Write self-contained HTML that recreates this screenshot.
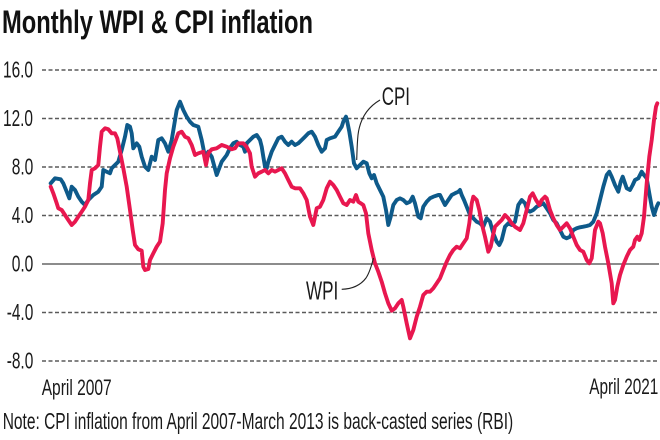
<!DOCTYPE html>
<html>
<head>
<meta charset="utf-8">
<style>
  html,body{margin:0;padding:0;background:#fff;}
  svg{display:block;}
  text{font-family:"Liberation Sans",sans-serif;fill:#1a1a1a;}
</style>
</head>
<body>
<svg width="660" height="440" viewBox="0 0 660 440" xmlns="http://www.w3.org/2000/svg">
  <rect width="660" height="440" fill="#fff"/>
  <!-- Title -->
  <text x="2" y="33" font-size="32" font-weight="bold" textLength="311" lengthAdjust="spacingAndGlyphs" style="fill:#111">Monthly WPI &amp; CPI inflation</text>

  <!-- Gridlines -->
  <g stroke="#5a5a5a" stroke-width="1.6" stroke-dasharray="4 2.5" fill="none">
    <line x1="42" y1="70" x2="659" y2="70"/>
    <line x1="42" y1="118.5" x2="659" y2="118.5"/>
    <line x1="42" y1="167" x2="659" y2="167"/>
    <line x1="42" y1="215.5" x2="659" y2="215.5"/>
    <line x1="42" y1="312.5" x2="659" y2="312.5"/>
    <line x1="42" y1="361" x2="659" y2="361"/>
  </g>
  <line x1="42" y1="264" x2="659" y2="264" stroke="#666" stroke-width="1.6"/>

  <!-- Y labels -->
  <g font-size="23" style="fill:#222">
    <text x="3" y="77.5" textLength="30" lengthAdjust="spacingAndGlyphs">16.0</text>
    <text x="3" y="126" textLength="30" lengthAdjust="spacingAndGlyphs">12.0</text>
    <text x="11.7" y="174.5" textLength="21.6" lengthAdjust="spacingAndGlyphs">8.0</text>
    <text x="11.7" y="223" textLength="21.6" lengthAdjust="spacingAndGlyphs">4.0</text>
    <text x="11.7" y="271.5" textLength="21.6" lengthAdjust="spacingAndGlyphs">0.0</text>
    <text x="6.7" y="320" textLength="26.6" lengthAdjust="spacingAndGlyphs">-4.0</text>
    <text x="6.7" y="368.5" textLength="26.6" lengthAdjust="spacingAndGlyphs">-8.0</text>
  </g>

  <!-- CPI series -->
  <polyline fill="none" stroke="#0e5a8a" stroke-width="3.9" stroke-linejoin="round" stroke-linecap="round" points="50.7,183.3 55,178.3 60.7,179.3 63.3,183.3 66.7,191.7 69.3,198.3 71.7,186.7 75,190 78.3,196.7 81.7,201.7 85,205 88.3,200 93.3,195 98.3,191.7 101.7,186.7 103.3,170 106.7,171.7 110,173.3 111.7,168.3 115,165 118.3,161.7 121.7,150 125,136.7 127.3,125 130,126.7 131.7,133.3 133.3,148.3 136.7,143.3 139.3,146.7 141.7,156.7 145,166.7 148.3,170 151.7,156.7 155,160 158.3,140 161.7,138.3 165,143.3 168.3,151.7 171.7,140 176.7,110 180,101.7 183.3,110 186.7,116.7 190,121.7 193.3,125 198.3,126.7 201.7,140 205,156.7 208.3,151.7 211.7,156.7 216.7,175 221.7,161.7 226.7,155 230,148 233.3,143.3 236.7,141.7 240,145 243.3,146.7 245,151.7 246.7,143.3 250,140 253.3,136.7 256.7,135 260,140 261.7,146.7 263.3,156.7 265,166.7 266.7,168.3 268.3,161.7 271.7,151.7 275,145 278.3,138.3 281.7,136.7 285,141.7 288.3,145 291.7,141.7 295,145 298.3,143.3 301.7,140 305,136.7 308.3,133.3 311.7,131.7 315,136.7 318.3,145 321.7,151.7 325,148.3 326.7,140 330,138.3 335,136.7 338.3,131.7 341.7,126.7 343.3,121.7 346,116.7 347.3,121.7 349.3,131.7 351.7,146.7 354,163.3 356.7,168.3 360,165 363.3,161.7 366.7,163.3 369.3,173.3 371.7,178.3 374,175 376.7,183.3 380,190 383.3,196.7 386,210 388.3,225 390.7,216.7 393.3,205 396.7,200 400,198.3 403.3,200 406.7,203.3 410,201.7 412.7,196.7 415,203.3 418.3,216.7 420.7,218.3 423.3,206.7 426.7,201.7 430,198.3 433.3,196.7 438.3,195 440,195 443.3,201.7 445,205 448.3,200 451.7,195 455,193.3 458.3,191.7 460,190 461.7,195 464,200 466.7,206.7 470,215 473.3,218.3 476.7,221.7 480,223.3 483.3,226.7 486.7,218.3 490,221.7 493.3,233.3 496.7,241.7 499.3,245 501.7,240 505,226.7 508.3,223.3 511.7,225 515,221.7 518.3,205 521.7,200 525,203.3 527.3,210 530,211.7 533.3,210 536.7,206.7 540,205 543.3,203.3 546.7,208.3 550,213.3 553.3,220 556.7,223.3 560,230 563.3,236.7 566.7,238.3 570,236.7 573.3,230 576.7,228.3 580,227.3 583.3,226.7 586.7,226 590,225 593.3,221.7 596.7,213.3 600,200 603.3,186.7 606.7,175 609.3,171.7 611.7,176.7 615,185 618.3,191.7 620.7,181.7 622.7,176.7 625,183.3 626.7,188.3 630,190 632.7,185 635,180 638.3,178.3 641.7,171.7 644,175 646.7,178.3 649.3,193.3 651.7,206.7 654,215 656.7,206.7 658.3,203.3"/>

  <!-- WPI series -->
  <polyline fill="none" stroke="#e8174f" stroke-width="3.9" stroke-linejoin="round" stroke-linecap="round" points="50.7,186.7 53.3,193.3 56.7,203.3 58.3,208.3 61.7,210 65,215 68.3,220 71.7,225 75,221.7 78.3,216.7 81.7,211.7 85,206.7 88.3,200 90,183.3 91.7,170 95,168.3 98.3,165 100,146.7 101.7,131.7 105,128.3 108.3,129.3 111.7,133.3 115,133.3 117.3,138.3 120,151.7 123.3,168.3 126.7,186.7 130,210 132.7,230 135,245 138.3,249.3 141.7,250.7 143.3,266.7 145,270 148.3,269 150,260 153.3,253.3 156.7,246.7 160,241.7 162.7,223.3 165,190 166.7,173.3 170,158.3 173.3,146.7 178.3,133.3 181.7,131.7 185,136.7 188.3,138.3 191.7,145 195,155 198.3,153.3 203.3,151.7 206,165 208.3,153.3 211.7,149.3 216.7,148.3 221.7,145 226.7,146.7 231.7,149.3 235,148.3 238.3,143.3 243.3,143.3 246.7,147 250,153.3 251.7,166.7 255,176.7 258.3,173.3 261.7,171.7 265,170 268.3,173.3 271.7,170 275,171.7 278.3,170 281.7,168.3 285,173.3 288.3,180 291.7,186.7 295,188.3 300,188.3 303.3,193.3 306.7,200 310,216.7 313.3,225 315,216.7 316.7,208.3 320,206.7 323.3,200 326.7,188.3 330,181.7 333.3,185 336.7,190 340,196.7 343.3,203.3 346.7,205 350,200 353.3,201.7 356,195 358.3,201.7 360.7,203.3 363.3,205 366,213.3 368.3,233.3 371.7,250 375,263.3 378.3,271.7 381.7,281.7 385,293.3 388.3,303.3 391.7,310.7 395,308.3 398.3,303.3 401.7,300 403.3,306.7 406.7,323.3 410,338.3 413.3,330 416.7,316.7 420,306.7 423.3,295 426.7,291.7 430,291.7 433.3,288.3 436.7,283.3 440,278.3 443.3,270 446.7,261.7 450,255 453.3,250 456.7,246.7 460,248.3 463.3,243.3 466.7,238.3 469.3,223.3 471.7,203.3 473.3,196.7 476.7,200 479.3,210 481.7,223.3 485,236.7 488.3,251.7 490.7,246.7 492.7,236.7 495,226.7 498.3,223.3 501.7,220 505,215 508.3,218.3 511.7,223.3 515,226.7 520,230 523.3,223.3 526.7,210 530,196.7 532.7,193.3 536,200 539.3,205 541.7,200 545,196.7 546.7,198.3 550,210 553.3,218.3 556.7,225 560,230 563.3,226.7 566.7,223.3 570,228.3 573.3,236.7 576.7,245 580,250 583.3,251.7 586.7,260 589.3,263.3 591.7,258.3 595,230 598.3,221.7 600,223.3 602.7,233.3 605,246.7 608.3,263.3 611.7,283.3 613.3,303.3 615,300 617.3,286.7 620,275 623.3,265 626.7,256.7 630,250 631.7,248.3 633.3,246.7 635,240 637.3,236.7 639.3,240 641.7,233.3 644,216.7 646.7,183.3 649.3,156.7 651.7,140 654,120 656,106.7 657.3,103.3"/>

  <!-- Annotations -->
  <path d="M380,100 C368,107 360,118 358,135 C357,145 357,153 356.7,160" fill="none" stroke="#222" stroke-width="1.1"/>
  <text x="381.7" y="105" font-size="25" textLength="28.3" lengthAdjust="spacingAndGlyphs">CPI</text>
  <path d="M341.7,289.3 C352,289 360,286 366,278 C370,272 372,264 373.5,258" fill="none" stroke="#222" stroke-width="1.1"/>
  <text x="306" y="299.3" font-size="26" textLength="32.3" lengthAdjust="spacingAndGlyphs">WPI</text>

  <!-- X labels -->
  <text x="41.7" y="395" font-size="22" textLength="70" lengthAdjust="spacingAndGlyphs">April 2007</text>
  <text x="589.3" y="394" font-size="22" textLength="69" lengthAdjust="spacingAndGlyphs">April 2021</text>

  <!-- Note -->
  <text x="2.7" y="429" font-size="23" textLength="510.5" lengthAdjust="spacingAndGlyphs">Note: CPI inflation from April 2007-March 2013 is back-casted series (RBI)</text>
</svg>
</body>
</html>
